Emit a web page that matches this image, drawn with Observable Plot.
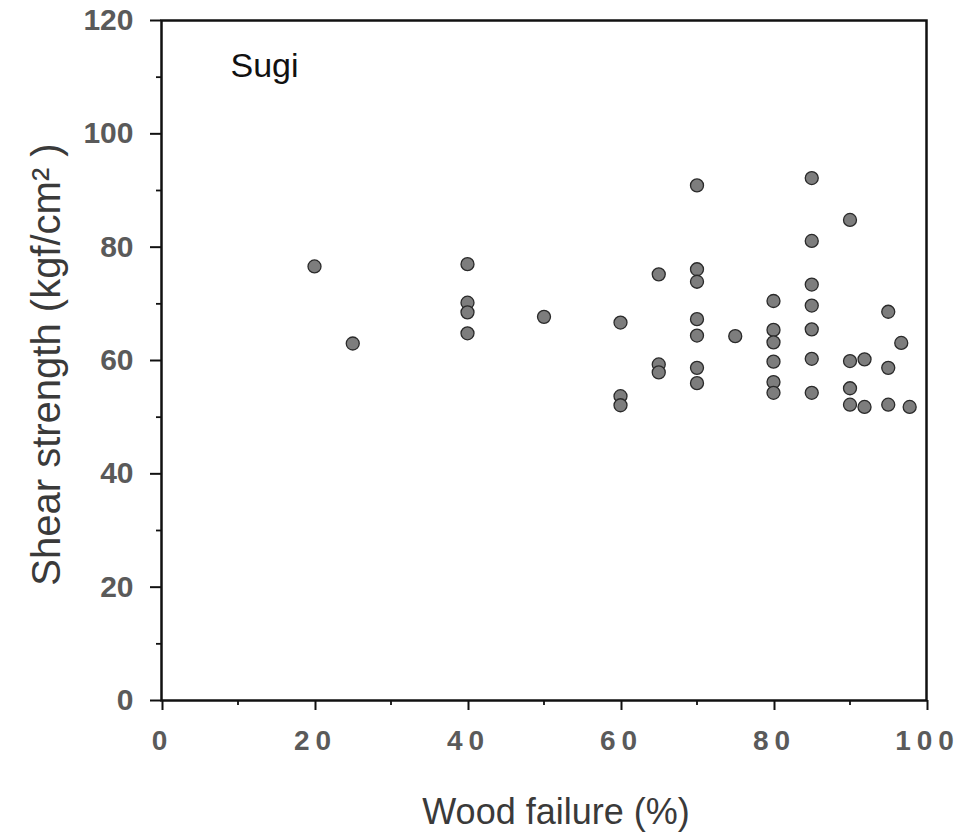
<!DOCTYPE html>
<html>
<head>
<meta charset="utf-8">
<script src="https://cdn.jsdelivr.net/npm/d3@7"></script>
<script src="https://cdn.jsdelivr.net/npm/@observablehq/plot@0.6"></script>
<style>
  html, body { margin: 0; padding: 0; background: #fff; }
  #chart svg { display: block; font-family: "Liberation Sans", Arial, sans-serif; }
  g[aria-label="x-axis tick label"] text { letter-spacing: 6px; }
</style>
</head>
<body>
<div id="chart"></div>
<script>
// Wood failure (%) of each specimen
const woodFailure = [
  20, 25,
  40, 40, 40, 40,
  50,
  60, 60, 60,
  65, 65, 65,
  70, 70, 70, 70, 70, 70, 70,
  75,
  80, 80, 80, 80, 80, 80,
  85, 85, 85, 85, 85, 85, 85,
  90, 90, 90, 90,
  91.9, 91.9,
  95, 95, 95,
  96.7, 97.8
];
// Shear strength (kgf/cm2) of each specimen
const shearStrength = [
  76.6, 63.0,
  77.0, 70.2, 68.5, 64.8,
  67.7,
  66.7, 53.7, 52.1,
  75.2, 59.3, 57.9,
  90.9, 76.1, 73.9, 67.3, 64.4, 58.7, 56.0,
  64.3,
  70.5, 65.4, 63.2, 59.8, 56.2, 54.3,
  92.2, 81.1, 73.4, 69.7, 65.5, 60.3, 54.3,
  84.8, 59.9, 55.1, 52.2,
  60.2, 51.8,
  68.6, 58.7, 52.2,
  63.1, 51.8
];
const xMajorTicks = [0, 20, 40, 60, 80, 100];
const xMinorTicks = [10, 30, 50, 70, 90];
const yMajorTicks = [0, 20, 40, 60, 80, 100, 120];
const yMinorTicks = [10, 30, 50, 70, 90, 110];
const panelLabel = "Sugi";
const xTitle = "Wood failure (%)";
const yTitle = "Shear strength (kgf/cm\u00B2 )";

const data = woodFailure.map((x, i) => ({x, y: shearStrength[i]}));

const chart = Plot.plot({
  width: 960,
  height: 834,
  marginTop: 20,
  marginBottom: 134,
  marginLeft: 161,
  marginRight: 34,
  style: {fontFamily: "Liberation Sans, Arial, sans-serif", background: "#fff"},
  x: {domain: [0, 100]},
  y: {domain: [0, 120]},
  marks: [
    Plot.axisX(xMinorTicks, {tickSize: 5, text: null, label: null, strokeWidth: 1.8, stroke: "#111"}),
    Plot.axisY(yMinorTicks, {tickSize: 5, text: null, label: null, strokeWidth: 1.8, stroke: "#111"}),
    Plot.axisX(xMajorTicks, {
      tickSize: 10, tickPadding: 20, strokeWidth: 2, stroke: "#111",
      fontSize: 28, fontWeight: "bold", fill: "#5a5a5a", label: null, dx: 1,
      tickFormat: d => String(d)
    }),
    Plot.axisY(yMajorTicks, {
      tickSize: 11, tickPadding: 17, strokeWidth: 2, stroke: "#111",
      fontSize: 30, fontWeight: "bold", fill: "#5a5a5a", label: null,
      tickFormat: d => String(d)
    }),
    Plot.frame({stroke: "#111", strokeWidth: 2.5}),
    Plot.dot(data, {x: "x", y: "y", r: 6.5, fill: "#7d7d7d", stroke: "#2a2a2a", strokeWidth: 1.3}),
    Plot.text([panelLabel], {
      frameAnchor: "top-left", text: d => d, dx: 69, dy: 32,
      lineAnchor: "top", textAnchor: "start", fontSize: 34, fill: "#111"
    }),
    Plot.text([xTitle], {
      frameAnchor: "bottom", text: d => d, dx: 12, dy: 112,
      lineAnchor: "middle", textAnchor: "middle", fontSize: 36, fill: "#3a3a3a"
    }),
    Plot.text([yTitle], {
      frameAnchor: "left", text: d => d, dx: -114, dy: 4, rotate: -90,
      lineAnchor: "middle", textAnchor: "middle", fontSize: 40, fill: "#3a3a3a"
    })
  ]
});
document.getElementById("chart").appendChild(chart);
</script>
</body>
</html>
